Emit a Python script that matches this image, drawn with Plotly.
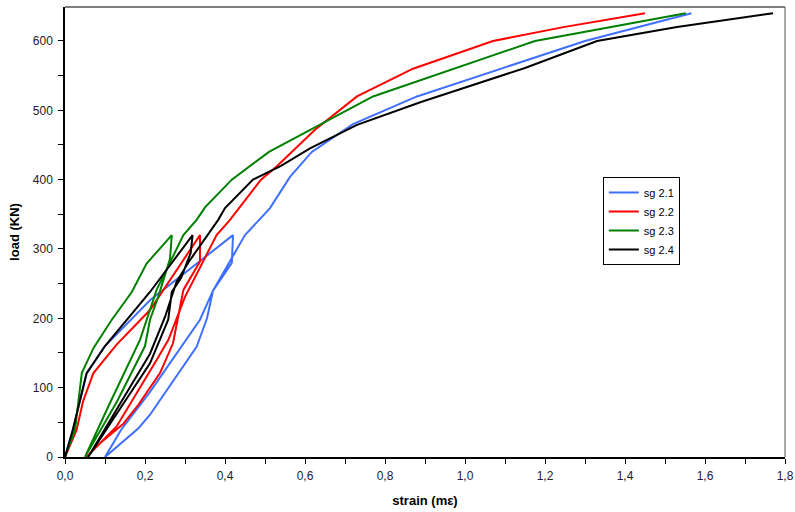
# ── 1. Imports ────────────────────────────────
import plotly.graph_objects as go

# ── 2. DATA ───────────────────────────────────
# each gauge: load up to 320, unload, then reload up to 640
sg21_strain = [0, 0.02, 0.054, 0.1, 0.2125, 0.42,
               0.417, 0.37, 0.355, 0.329, 0.2125, 0.183, 0.1,
               0.14, 0.2125, 0.3375, 0.37, 0.45, 0.5125, 0.5625, 0.617,
               0.72, 0.88, 1.3, 1.566]
sg21_load = [0, 40, 120, 160, 226, 320,
             280, 240, 200, 159, 61, 41, 0,
             39, 94, 198, 240, 320, 359, 404, 440,
             480, 520, 600, 640]

sg22_strain = [0, 0.029, 0.045, 0.071, 0.129, 0.2125, 0.3375,
               0.3375, 0.296, 0.27, 0.2375, 0.183, 0.146, 0.0875, 0.054,
               0.129, 0.229, 0.2585, 0.3, 0.379, 0.4125, 0.49, 0.529, 0.625,
               0.73, 0.87, 1.07, 1.246, 1.45]
sg22_load = [0, 39, 80, 121, 162, 212, 320,
             282, 241, 164, 121, 75, 48, 20, 0,
             44, 140, 169, 231, 320, 342, 400, 419, 472,
             520, 560, 600, 620, 640]

sg23_strain = [0, 0.025, 0.042, 0.071, 0.117, 0.167, 0.204, 0.267,
               0.2625, 0.233, 0.2125, 0.2, 0.13, 0.05,
               0.11, 0.1875, 0.229, 0.296, 0.329, 0.35, 0.417, 0.51,
               0.77, 1.07, 1.175, 1.552]
sg23_load = [0, 39, 121, 157, 198, 238, 279, 320,
             286, 231, 198, 160, 80, 0,
             75, 169, 241, 320, 342, 360, 400, 440,
             520, 580, 600, 640]

sg24_strain = [0, 0.02, 0.054, 0.1, 0.2125, 0.319,
               0.314, 0.29, 0.267, 0.258, 0.2125, 0.058,
               0.2125, 0.25, 0.279, 0.3125, 0.383, 0.4, 0.47, 0.54, 0.6125,
               0.73, 0.89, 1.15, 1.33, 1.53, 1.77]
sg24_load = [0, 40, 121, 160, 238, 320,
             294, 258, 238, 198, 135, 0,
             149, 202, 253, 284, 342, 359, 400, 420, 445,
             479, 512, 561, 600, 620, 640]

names = ["sg 2.1", "sg 2.2", "sg 2.3", "sg 2.4"]
colors = ["#3f6fff", "#ff0000", "#008000", "#000000"]

x_ticks = [0, 0.2, 0.4, 0.6, 0.8, 1.0, 1.2, 1.4, 1.6, 1.8]
y_ticks = [0, 100, 200, 300, 400, 500, 600]

# ── 3. FIGURE ─────────────────────────────────
fig = go.Figure()
series = [(sg21_strain, sg21_load), (sg22_strain, sg22_load),
          (sg23_strain, sg23_load), (sg24_strain, sg24_load)]
for (xs, ys), name, col in zip(series, names, colors):
    fig.add_trace(go.Scatter(x=xs, y=ys, mode="lines", name=name,
                             line=dict(color=col, width=2)))

axis_font = dict(family="Liberation Sans, Arial", size=12, color="#222")
title_font = dict(family="Liberation Sans, Arial", size=13, color="black")
fig.update_xaxes(
    range=[0, 1.8], tickvals=x_ticks, tickformat=".1f",
    automargin=False, ticklabeloverflow="allow",
    showgrid=False, zeroline=False,
    showline=True, linecolor="black", linewidth=1.5,
    ticks="outside", ticklen=5, tickcolor="black", ticklabelstandoff=2,
    minor=dict(dtick=0.1, ticks="outside", ticklen=5, tickcolor="black"),
    tickfont=axis_font,
    title=dict(text="<b>strain (mε)</b>", font=title_font, standoff=14),
)
fig.update_yaxes(
    range=[0, 649], tickvals=y_ticks,
    automargin=False,
    showgrid=False, zeroline=False,
    showline=True, linecolor="black", linewidth=1.5,
    ticks="outside", ticklen=5, tickcolor="black", ticklabelstandoff=3,
    minor=dict(tickvals=[50, 150, 250, 350, 450, 550], ticks="outside", ticklen=5, tickcolor="black"),
    tickfont=axis_font,
    title=dict(text="<b>load (KN)</b>", font=title_font, standoff=10),
)

# thin grey frame on top and right
fig.add_shape(type="line", xref="paper", yref="paper", x0=0, x1=1, y0=1, y1=1,
              line=dict(color="#555", width=1.5))
fig.add_shape(type="line", xref="paper", yref="paper", x0=1, x1=1, y0=0, y1=1,
              line=dict(color="#555", width=1))

fig.update_layout(
    width=795, height=512,
    margin=dict(l=65, r=10, t=7, b=55),
    plot_bgcolor="white", paper_bgcolor="white",
    separators=",.",
    font=dict(family="Liberation Sans, Arial", size=12, color="black"),
    legend=dict(x=0.747, y=0.622, xanchor="left", yanchor="top",
                bgcolor="white", bordercolor="black", borderwidth=1,
                font=dict(size=11), tracegroupgap=0, itemwidth=30),
)

# drop the default page margin so the figure fills the window exactly
fig.write_html("out.html", config={"displayModeBar": False},
               post_script="document.body.style.margin='0';document.body.style.overflow='hidden';")
